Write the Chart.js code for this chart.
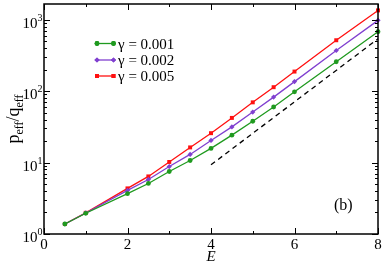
<!DOCTYPE html>
<html><head><meta charset="utf-8">
<script src="https://cdn.jsdelivr.net/npm/chart.js@4/dist/chart.umd.min.js"></script>
<style>html,body{margin:0;padding:0;background:#fff;}canvas{display:block;}</style>
</head><body>
<canvas id="c" width="382" height="263"></canvas>
<script>
const E = [0.5, 1, 2, 2.5, 3, 3.5, 4, 4.5, 5, 5.5, 6, 7, 8];
const gamma001 = [1.38, 1.95, 3.67, 5.1, 7.5, 10.7, 15.8, 24.2, 37.9, 60, 97.8, 258, 680];
const gamma002 = [1.38, 1.97, 4.08, 5.8, 8.8, 13.0, 20.4, 31.6, 51, 82.5, 136, 371, 980];
const gamma005 = [1.38, 1.98, 4.35, 6.4, 10.2, 16.3, 25.8, 42.2, 69.7, 113.6, 188, 516, 1350];
const guideE = [4, 8];
const guideVal = [9.3, 540];
const seriesLabels = ['γ = 0.001', 'γ = 0.002', 'γ = 0.005'];
const xTicks = [0, 2, 4, 6, 8];
const yDecades = [0, 1, 2, 3];

const GREEN = '#1f9a1f', PURPLE = '#8040d0', RED = '#ff1010';
const SERIF = '"Liberation Serif", "DejaVu Serif", serif';

function pts(xs, ys){ return xs.map((x,i)=>({x:x, y:ys[i]})); }

const datasets = [
  {label: seriesLabels[0], data: pts(E, gamma001), borderColor: GREEN, backgroundColor: GREEN, pointStyle:'circle', pointRadius:2.4, borderWidth:1.3, pointBorderWidth:0, clip:false},
  {label: seriesLabels[1], data: pts(E, gamma002), borderColor: PURPLE, backgroundColor: PURPLE, pointStyle:'rectRot', pointRadius:2.6, borderWidth:1.3, pointBorderWidth:0, clip:false},
  {label: seriesLabels[2], data: pts(E, gamma005), borderColor: RED, backgroundColor: RED, pointStyle:'rect', pointRadius:2.8, borderWidth:1.3, pointBorderWidth:0, clip:false},
  {label: 'guide', data: pts(guideE, guideVal), borderColor: '#000', borderDash:[5,4], borderWidth:1.3, pointRadius:0, clip:false}
];

const deco = {
  id: 'deco',
  afterDraw(chart){
    const ctx = chart.ctx;
    const {left, right, top, bottom} = chart.chartArea;
    const xs = chart.scales.x, ys = chart.scales.y;
    ctx.save();
    ctx.strokeStyle = '#000';
    ctx.lineWidth = 1.5;
    ctx.strokeRect(left, top, right-left, bottom-top);
    ctx.lineWidth = 1;
    for (let v = 0; v <= 8; v++) {
      const px = Math.round(xs.getPixelForValue(v)) + 0.5;
      const len = (v % 2 === 0) ? 6 : 3;
      ctx.beginPath();
      ctx.moveTo(px, bottom); ctx.lineTo(px, bottom - len);
      ctx.moveTo(px, top); ctx.lineTo(px, top + len);
      ctx.stroke();
    }
    for (let d = 0; d <= 3; d++) {
      for (let m = 1; m <= 9; m++) {
        const v = m * Math.pow(10, d);
        if (v > ys.max) continue;
        const py = Math.round(ys.getPixelForValue(v)) + 0.5;
        const len = m === 1 ? 6 : 3;
        ctx.beginPath();
        ctx.moveTo(left, py); ctx.lineTo(left + len, py);
        ctx.moveTo(right, py); ctx.lineTo(right - len, py);
        ctx.stroke();
      }
    }
    ctx.fillStyle = '#000';
    ctx.font = '15px ' + SERIF;
    ctx.textAlign = 'center';
    ctx.textBaseline = 'alphabetic';
    xTicks.forEach(v => {
      ctx.fillText(String(v), xs.getPixelForValue(v), 249);
    });
    yDecades.forEach(d => {
      const py = ys.getPixelForValue(Math.pow(10, d));
      ctx.font = '15px ' + SERIF;
      ctx.textAlign = 'right';
      ctx.fillText('10', 37.5, py + 8);
      ctx.font = '10px ' + SERIF;
      ctx.textAlign = 'left';
      ctx.fillText(String(d), 37.5, py + 1);
    });
    ctx.font = 'italic 15px ' + SERIF;
    ctx.textAlign = 'center';
    ctx.fillText('E', 211, 261);
    ctx.save();
    ctx.translate(19, 119);
    ctx.rotate(-Math.PI/2);
    const big = '18px ' + SERIF, small = '12px ' + SERIF;
    const parts = [['p', big, 0], ['eff', small, 4], ['/q', big, 0], ['eff', small, 4]];
    let total = 0;
    parts.forEach(p => { ctx.font = p[1]; total += ctx.measureText(p[0]).width; });
    let x0 = -total/2;
    ctx.textAlign = 'left';
    parts.forEach(p => { ctx.font = p[1]; ctx.fillText(p[0], x0, p[2]); x0 += ctx.measureText(p[0]).width; });
    ctx.restore();
    ctx.font = '16px ' + SERIF;
    ctx.textAlign = 'left';
    ctx.fillText('(b)', 334, 210);
    const rows = [43.5, 60, 76];
    [0,1,2].forEach(i => {
      const ds = chart.data.datasets[i];
      const y = rows[i];
      ctx.strokeStyle = ds.borderColor;
      ctx.lineWidth = 1.3;
      ctx.beginPath(); ctx.moveTo(97, y); ctx.lineTo(113.5, y); ctx.stroke();
      ctx.fillStyle = ds.backgroundColor;
      [97, 113.5].forEach(px => {
        Chart.helpers.drawPoint(ctx, {pointStyle: ds.pointStyle, radius: ds.pointRadius, borderWidth: 0, rotation: 0}, px, y);
        ctx.fill();
      });
      ctx.fillStyle = '#000';
      ctx.font = '15px ' + SERIF;
      ctx.fillText(seriesLabels[i], 118, y + 5);
    });
    ctx.restore();
  }
};

new Chart(document.getElementById('c'), {
  type: 'line',
  data: { datasets: datasets },
  options: {
    responsive: false,
    animation: false,
    layout: { padding: { left: 44, right: 4, top: 2, bottom: 29 } },
    plugins: { legend: { display: false }, tooltip: { enabled: false } },
    scales: {
      x: { type: 'linear', min: 0, max: 8, display: false },
      y: { type: 'logarithmic', min: 1, max: 1660, display: false }
    }
  },
  plugins: [deco]
});
</script>
</body></html>
